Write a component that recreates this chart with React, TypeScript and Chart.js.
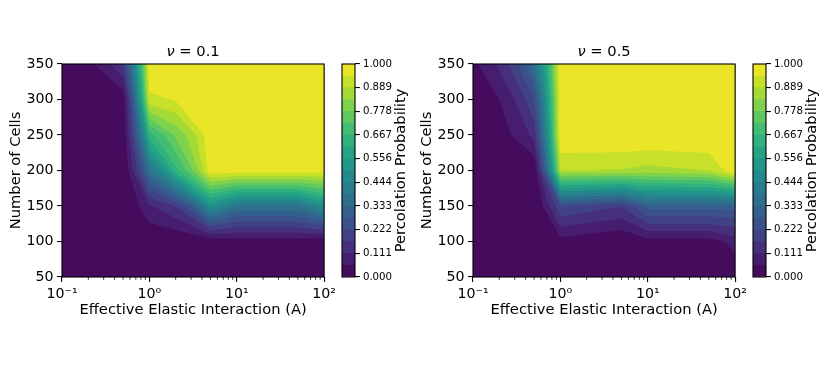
import React, { useEffect, useRef } from 'react';
import { Chart, registerables } from 'chart.js';

Chart.register(...registerables);

const FONT = "'DejaVu Sans', 'Liberation Sans', sans-serif";
const FS_TICK = 14.2;
const FS_LABEL = 14.7;
const FS_CB = 10.2;

// Grid of the simulation: number of cells (rows) and effective elastic interaction A (columns)
const cellCounts = [50, 100, 150, 200, 250, 300, 350];
const interactionNu01 = [0.1, 0.5, 1, 2, 5, 10, 50, 100];
const interactionNu05 = [0.1, 0.5, 1, 5, 10, 50, 100];

// Percolation probability, one row per cell count (50 .. 350)
const probNu01 = [
  [0, 0, 0, 0, 0, 0, 0, 0],
  [0, 0, 0, 0, 0.01, 0.024, 0.024, 0.01],
  [0, 0, 0.105, 0.17, 0.5, 0.38, 0.38, 0.5],
  [0, 0, 0.38, 0.65, 0.99, 0.98, 0.98, 0.97],
  [0, 0.01, 0.65, 0.79, 1, 1, 1, 1],
  [0, 0.015, 0.93, 0.95, 1, 1, 1, 1],
  [0, 0.17, 1, 1, 1, 1, 1, 1],
];
const probNu05 = [
  [0, 0, 0, 0, 0, 0, 0],
  [0, 0, 0.033, 0, 0.032, 0.032, 0.08],
  [0, 0, 0.225, 0.17, 0.3, 0.3, 0.3],
  [0, 0, 0.89, 0.885, 0.87, 0.89, 1],
  [0, 0.13, 1, 1, 1, 1, 1],
  [0, 0.224, 1, 1, 1, 1, 1],
  [0.044, 0.364, 1, 1, 1, 1, 1],
];

const contourLevels = [
  0, 1 / 18, 2 / 18, 3 / 18, 4 / 18, 5 / 18, 6 / 18, 7 / 18, 8 / 18, 9 / 18,
  10 / 18, 11 / 18, 12 / 18, 13 / 18, 14 / 18, 15 / 18, 16 / 18, 17 / 18, 1,
];
const colorbarTicks = [0, 1 / 9, 2 / 9, 3 / 9, 4 / 9, 5 / 9, 6 / 9, 7 / 9, 8 / 9, 1];
const xMajorTicks = [0.1, 1, 10, 100];
const xMajorLabels = ['10\u207B\u00B9', '10\u2070', '10\u00B9', '10\u00B2'];
const xMinorTicks = [
  0.2, 0.3, 0.4, 0.5, 0.6, 0.7, 0.8, 0.9,
  2, 3, 4, 5, 6, 7, 8, 9,
  20, 30, 40, 50, 60, 70, 80, 90,
];
const yTicks = [50, 100, 150, 200, 250, 300, 350];

const viridisStops = [
  '#440154', '#482878', '#3e4989', '#31688e', '#26828e',
  '#1f9e89', '#35b779', '#6ece58', '#b5de2b', '#fde725',
];

function hexToRgb(h: string) {
  return [1, 3, 5].map((i) => parseInt(h.slice(i, i + 2), 16));
}
function viridis(t: number) {
  const n = viridisStops.length;
  const s = Math.max(0, Math.min(1, t)) * (n - 1);
  const i = Math.min(n - 2, Math.floor(s));
  const f = s - i;
  const a = hexToRgb(viridisStops[i]);
  const b = hexToRgb(viridisStops[i + 1]);
  const c = a.map((v, k) => Math.round(v + (b[k] - v) * f));
  return `rgb(${c[0]},${c[1]},${c[2]})`;
}
function bandColor(k: number) {
  return viridis((contourLevels[k] + contourLevels[k + 1]) / 2);
}

type P = [number, number, number];
function clipAbove(pts: P[], L: number): P[] {
  const out: P[] = [];
  const n = pts.length;
  for (let i = 0; i < n; i++) {
    const cur = pts[i];
    const prev = pts[(i + n - 1) % n];
    const ci = cur[2] >= L;
    const pi = prev[2] >= L;
    const cross = (): P => {
      const t = (L - prev[2]) / (cur[2] - prev[2]);
      return [prev[0] + t * (cur[0] - prev[0]), prev[1] + t * (cur[1] - prev[1]), L];
    };
    if (ci) {
      if (!pi) out.push(cross());
      out.push(cur);
    } else if (pi) {
      out.push(cross());
    }
  }
  return out;
}

function ContourPanel({ left, xs, probs, nu }: { left: number; xs: number[]; probs: number[][]; nu: string }) {
  const ref = useRef<HTMLCanvasElement>(null);
  useEffect(() => {
    const canvas = ref.current!;
    const plugin = {
      id: 'contourFill',
      beforeDatasetsDraw(chart: any) {
        const { ctx, chartArea: a } = chart;
        const sx = chart.scales.x;
        const sy = chart.scales.y;
        ctx.save();
        ctx.beginPath();
        ctx.rect(a.left, a.top, a.right - a.left, a.bottom - a.top);
        ctx.clip();
        ctx.fillStyle = bandColor(0);
        ctx.fillRect(a.left, a.top, a.right - a.left, a.bottom - a.top);
        for (let k = 1; k < contourLevels.length - 1; k++) {
          const L = contourLevels[k];
          ctx.beginPath();
          for (let j = 0; j < cellCounts.length - 1; j++) {
            for (let i = 0; i < xs.length - 1; i++) {
              const cell: P[] = [
                [xs[i], cellCounts[j], probs[j][i]],
                [xs[i + 1], cellCounts[j], probs[j][i + 1]],
                [xs[i + 1], cellCounts[j + 1], probs[j + 1][i + 1]],
                [xs[i], cellCounts[j + 1], probs[j + 1][i]],
              ];
              const poly = clipAbove(cell, L);
              if (poly.length < 3) continue;
              poly.forEach((p, m) => {
                const px = sx.getPixelForValue(p[0]);
                const py = sy.getPixelForValue(p[1]);
                if (m === 0) ctx.moveTo(px, py);
                else ctx.lineTo(px, py);
              });
              ctx.closePath();
            }
          }
          ctx.fillStyle = bandColor(k);
          ctx.fill();
        }
        ctx.restore();
      },
      afterDraw(chart: any) {
        const { ctx, chartArea: a } = chart;
        const sx = chart.scales.x;
        ctx.save();
        ctx.strokeStyle = '#000';
        ctx.lineWidth = 0.83;
        ctx.beginPath();
        xMinorTicks.forEach((v) => {
          const px = sx.getPixelForValue(v);
          ctx.moveTo(px, a.bottom);
          ctx.lineTo(px, a.bottom + 2.8);
        });
        ctx.stroke();
        ctx.lineWidth = 1.1;
        ctx.strokeRect(a.left, a.top, a.right - a.left, a.bottom - a.top);
        ctx.fillStyle = '#000';
        ctx.textBaseline = 'alphabetic';
        ctx.textAlign = 'left';
        const cx = (a.left + a.right) / 2;
        ctx.font = `italic ${FS_LABEL}px ${FONT}`;
        const w1 = ctx.measureText('\u03BD').width;
        ctx.font = `${FS_LABEL}px ${FONT}`;
        const rest = ' = ' + nu;
        const w2 = ctx.measureText(rest).width;
        const x0 = cx - (w1 + w2) / 2;
        ctx.font = `italic ${FS_LABEL}px ${FONT}`;
        ctx.fillText('\u03BD', x0, a.top - 8);
        ctx.font = `${FS_LABEL}px ${FONT}`;
        ctx.fillText(rest, x0 + w1, a.top - 8);
        ctx.textAlign = 'center';
        ctx.fillText('Effective Elastic Interaction (A)', cx, a.bottom + 37);
        ctx.translate(a.left - 46, (a.top + a.bottom) / 2);
        ctx.rotate(-Math.PI / 2);
        ctx.textBaseline = 'middle';
        ctx.fillText('Number of Cells', 0, 0);
        ctx.restore();
      },
    };
    const chart = new Chart(canvas, {
      type: 'scatter',
      data: { datasets: [{ data: [] }] },
      options: {
        responsive: false,
        animation: false,
        devicePixelRatio: 1,
        events: [],
        layout: { padding: { top: 64, right: 14, left: 0, bottom: 0 } },
        plugins: { legend: { display: false }, tooltip: { enabled: false } },
        scales: {
          x: {
            type: 'logarithmic',
            position: 'bottom',
            min: 0.1,
            max: 100,
            afterBuildTicks: (s: any) => {
              s.ticks = xMajorTicks.map((v) => ({ value: v, major: true }));
            },
            afterFit: (s: any) => {
              s.height = 97;
            },
            ticks: {
              autoSkip: false,
              maxRotation: 0,
              padding: 4,
              color: '#000',
              font: { family: FONT, size: FS_TICK },
              callback: (_v: any, i: number) => xMajorLabels[i],
            },
            grid: { display: true, drawOnChartArea: false, tickLength: 4.9, color: '#000', lineWidth: 1.1 },
            border: { display: false },
          },
          y: {
            type: 'linear',
            position: 'left',
            min: 50,
            max: 350,
            afterBuildTicks: (s: any) => {
              s.ticks = yTicks.map((v) => ({ value: v }));
            },
            afterFit: (s: any) => {
              s.width = 62;
            },
            ticks: {
              padding: 3.5,
              color: '#000',
              font: { family: FONT, size: FS_TICK },
              callback: (v: any) => String(v),
            },
            grid: { display: true, drawOnChartArea: false, tickLength: 4.9, color: '#000', lineWidth: 1.1 },
            border: { display: false },
          },
        },
      } as any,
      plugins: [plugin],
    });
    return () => chart.destroy();
  }, []);
  return <canvas ref={ref} width={340} height={374} style={{ position: 'absolute', left, top: 0 }} />;
}

function Colorbar({ left, width }: { left: number; width: number }) {
  const ref = useRef<HTMLCanvasElement>(null);
  useEffect(() => {
    const canvas = ref.current!;
    const bands = contourLevels.slice(0, -1).map((_, k) => k);
    const plugin = {
      id: 'cbDecor',
      afterDraw(chart: any) {
        const { ctx, chartArea: a } = chart;
        ctx.save();
        ctx.strokeStyle = '#000';
        ctx.lineWidth = 1.1;
        ctx.strokeRect(a.left, a.top, a.right - a.left, a.bottom - a.top);
        ctx.fillStyle = '#000';
        ctx.font = `${FS_LABEL}px ${FONT}`;
        ctx.translate(a.right + 46, (a.top + a.bottom) / 2);
        ctx.rotate(-Math.PI / 2);
        ctx.textAlign = 'center';
        ctx.textBaseline = 'middle';
        ctx.fillText('Percolation Probability', 0, 0);
        ctx.restore();
      },
    };
    const chart = new Chart(canvas, {
      type: 'bar',
      data: {
        labels: [''],
        datasets: bands.map((k) => ({
          data: [contourLevels[k + 1] - contourLevels[k]],
          backgroundColor: bandColor(k),
          borderWidth: 0,
          barPercentage: 1,
          categoryPercentage: 1,
        })),
      },
      options: {
        responsive: false,
        animation: false,
        devicePixelRatio: 1,
        events: [],
        layout: { padding: { left: 6, top: 64, bottom: 97, right: 0 } },
        plugins: { legend: { display: false }, tooltip: { enabled: false } },
        scales: {
          x: { display: false, stacked: true },
          y: {
            stacked: true,
            position: 'right',
            min: 0,
            max: 1,
            afterBuildTicks: (s: any) => {
              s.ticks = colorbarTicks.map((v) => ({ value: v }));
            },
            afterFit: (s: any) => {
              s.width = width - 19;
            },
            ticks: {
              padding: 3,
              color: '#000',
              font: { family: FONT, size: FS_CB },
              callback: (v: any) => Number(v).toFixed(3),
            },
            grid: { display: true, drawOnChartArea: false, tickLength: 4.9, color: '#000', lineWidth: 1.1 },
            border: { display: false },
          },
        },
      } as any,
      plugins: [plugin],
    });
    return () => chart.destroy();
  }, []);
  return <canvas ref={ref} width={width} height={374} style={{ position: 'absolute', left, top: 0 }} />;
}

export default function App() {
  return (
    <div style={{ position: 'absolute', left: 0, top: 0, width: 830, height: 374, background: '#fff', overflow: 'hidden' }}>
      <ContourPanel left={0} xs={interactionNu01} probs={probNu01} nu="0.1" />
      <Colorbar left={336} width={80} />
      <ContourPanel left={411} xs={interactionNu05} probs={probNu05} nu="0.5" />
      <Colorbar left={747} width={83} />
    </div>
  );
}
